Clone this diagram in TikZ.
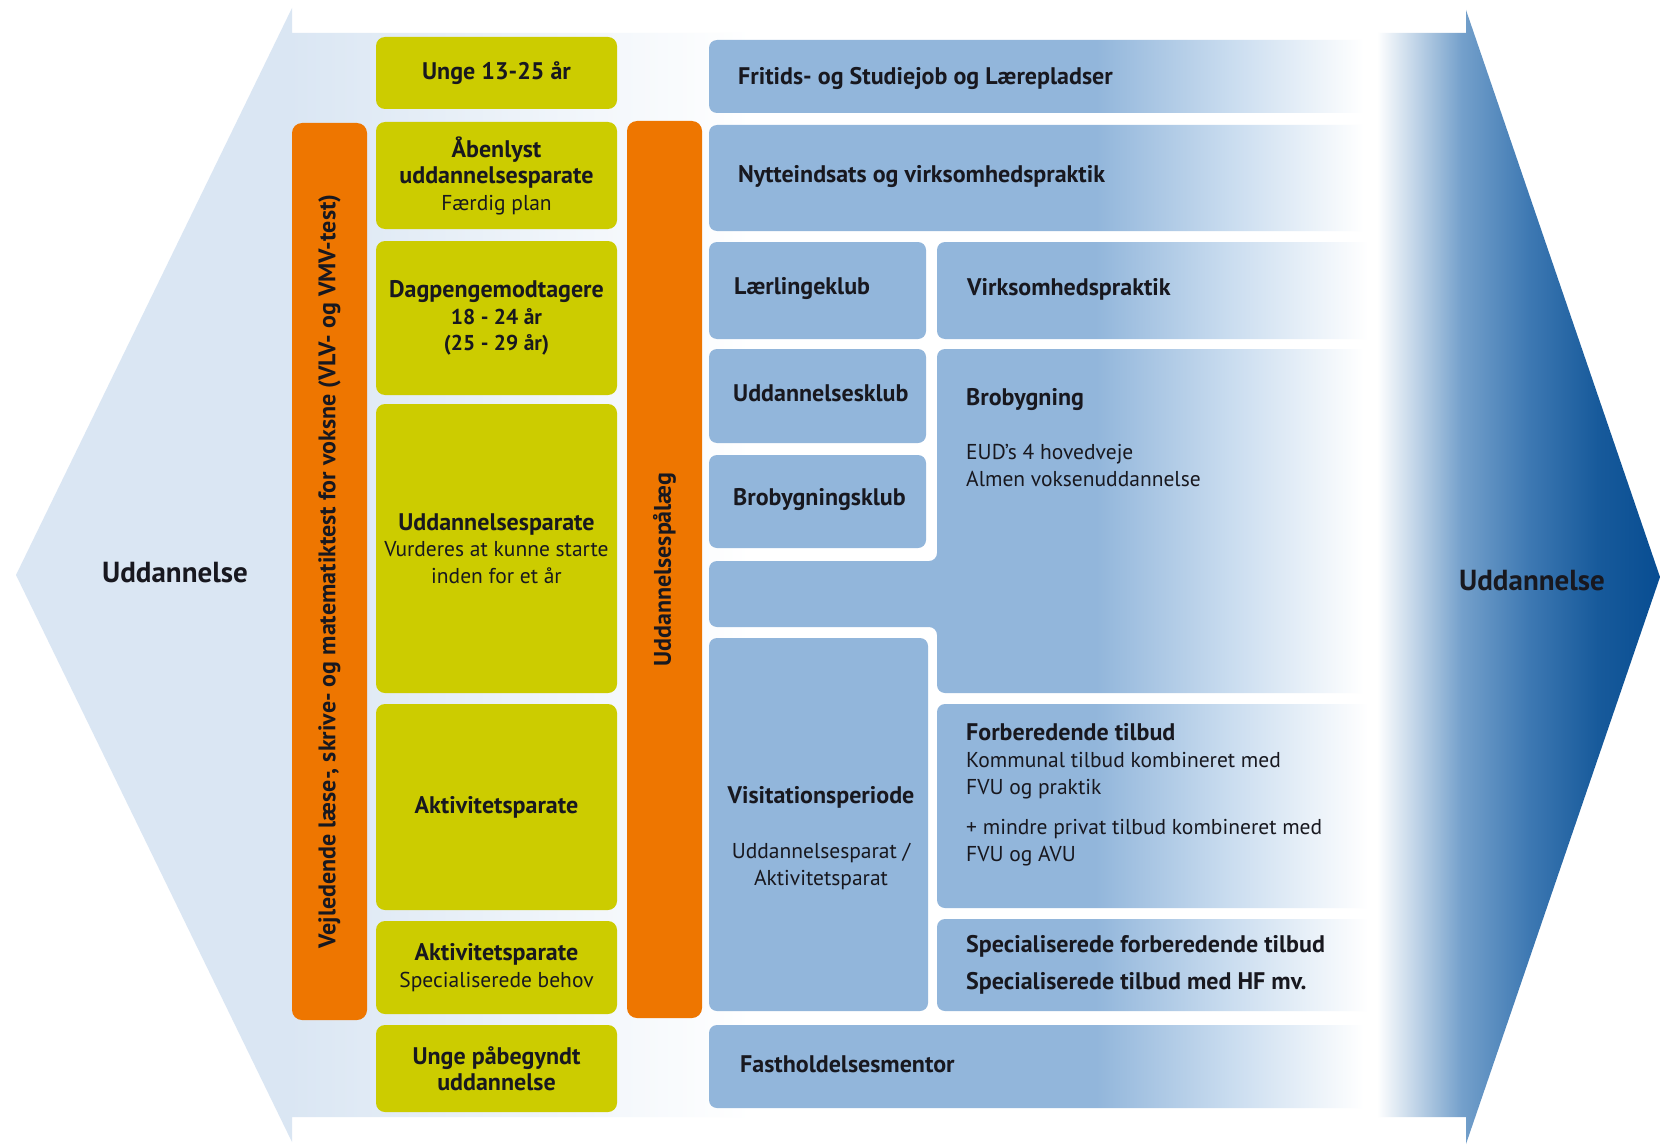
\documentclass[tikz,border=0pt]{standalone}
\usepackage{fontspec}
\setmainfont{PT Sans}
\definecolor{cyel}{HTML}{CCCC00}
\definecolor{corg}{HTML}{EE7600}
\definecolor{cbx}{HTML}{92B6DB}
\definecolor{cbxl}{HTML}{C9DCEF}
\definecolor{clb}{HTML}{DAE6F3}
\definecolor{ctxt}{HTML}{18181F}
\definecolor{cra1}{HTML}{74A0CB}
\definecolor{cra2}{HTML}{3D78B2}
\definecolor{cra3}{HTML}{175A9B}
\definecolor{cra4}{HTML}{084D92}
\pgfdeclarehorizontalshading{bgsh}{100bp}{color(0bp)=(clb); color(35bp)=(clb); color(52bp)=(white); color(100bp)=(white)}
\pgfdeclarehorizontalshading{arrsh}{100bp}{color(0bp)=(white); color(25bp)=(white); color(40bp)=(cra1); color(52bp)=(cra2); color(64bp)=(cra3); color(75bp)=(cra4); color(100bp)=(cra4)}
\pgfdeclarehorizontalshading{fadeW}{100bp}{color(0bp)=(cbx); color(54bp)=(cbx); color(64bp)=(cbxl); color(74bp)=(white); color(100bp)=(white)}
\pgfdeclarehorizontalshading{fadeN}{100bp}{color(0bp)=(cbx); color(43bp)=(cbx); color(58bp)=(cbxl); color(74bp)=(white); color(100bp)=(white)}
\begin{document}
\begin{tikzpicture}[x=1pt,y=-1pt,
  ybox/.style={fill=cyel, rounded corners=9pt, minimum width=241pt, inner sep=0pt, align=center, text=ctxt,
    font=\bfseries\fontsize{24}{26.5}\selectfont},
  obar/.style={fill=corg, rounded corners=10pt, inner sep=0pt, text=ctxt, rotate=90,
    font=\bfseries\fontsize{24}{26}\selectfont},
  bsolid/.style={fill=cbx, rounded corners=8pt, inner sep=0pt},
  bwide/.style={shade, shading=fadeW, rounded corners=8pt, inner sep=0pt},
  bnarrow/.style={shade, shading=fadeN, rounded corners=8pt, inner sep=0pt},
  btxt/.style={inner sep=0pt, align=left, text=ctxt, font=\bfseries\fontsize{24}{27}\selectfont},
  bigtxt/.style={inner sep=0pt, text=ctxt, font=\bfseries\fontsize{29}{32}\selectfont}]
\newcommand\subf{\mdseries\fontsize{21.5}{26.5}\selectfont}
\newcommand\subb{\bfseries\fontsize{21.5}{26.5}\selectfont}
\useasboundingbox (0,0) rectangle (1660,1145);
\fill[white] (0,0) rectangle (1660,1145);
% background chevron and body
\path[shade, shading=bgsh] (292,8) -- (16,575) -- (292,1142) -- (292,1117) -- (1377,1117) -- (1377,33) -- (292,33) -- cycle;
% right arrow
\path[shade, shading=arrsh] (1377,33) -- (1466,33) -- (1466,10) -- (1660,577) -- (1466,1144) -- (1466,1117) -- (1377,1117) -- cycle;
% side labels
\node[bigtxt] (uL) at (175,573) {Uddannelse};
\node[bigtxt] (uR) at (1532,581) {Uddannelse};
% orange bars
\node[obar, minimum width=897pt, minimum height=75pt] (oL) at (329.5,571.5) {Vejledende læse-, skrive- og matematiktest for voksne (VLV- og VMV-test)};
\node[obar, minimum width=897pt, minimum height=75pt] (oR) at (664.5,569.5) {Uddannelsespålæg};
% yellow column
\node[ybox, minimum height=72pt] (yU) at (496.5,73) {Unge 13-25 år};
\node[ybox, minimum height=107pt] (yA) at (496.5,175.5) {Åbenlyst\\uddannelsesparate\\{\subf Færdig plan}};
\node[ybox, minimum height=154pt] (yD) at (496.5,318) {Dagpengemodtagere\\{\subb 18 - 24 år}\\{\subb (25 - 29 år)}};
\node[ybox, minimum height=289pt] (yUP) at (496.5,548.5) {Uddannelsesparate\\{\subf Vurderes at kunne starte}\\{\subf inden for et år}};
\node[ybox, minimum height=206pt] (yAk) at (496.5,807) {Aktivitetsparate};
\node[ybox, minimum height=93pt] (yAS) at (496.5,967.5) {Aktivitetsparate\\{\subf Specialiserede behov}};
\node[ybox, minimum height=87pt] (yUng) at (496.5,1068.5) {Unge påbegyndt\\uddannelse};
% blue boxes
\node[bwide, minimum width=668pt, minimum height=73pt] (bF) at (1043,76.5) {};
\node[bwide, minimum width=668pt, minimum height=106pt] (bN) at (1043,178) {};
\node[bsolid, minimum width=217pt, minimum height=97pt] (bL) at (817.5,290.5) {};
\node[bnarrow, minimum width=440pt, minimum height=97pt] (bV) at (1157,290.5) {};
\node[bsolid, minimum width=217pt, minimum height=94pt] (bU) at (817.5,396) {};
\node[bsolid, minimum width=217pt, minimum height=93pt] (bBk) at (817.5,501.5) {};
\path[shade, shading=fadeW, rounded corners=8pt] (937,349) -- (1377,349) -- (1377,693) -- (937,693) -- (937,627) -- (709,627) -- (709,561) -- (937,561) -- cycle;
\node[bsolid, minimum width=219pt, minimum height=373pt] (bVis) at (818.5,824.5) {};
\node[bnarrow, minimum width=440pt, minimum height=204pt] (bFo) at (1157,806) {};
\node[bnarrow, minimum width=440pt, minimum height=92pt] (bS) at (1157,965) {};
\node[bwide, minimum width=668pt, minimum height=83pt] (bFa) at (1043,1066.5) {};
% blue texts
\node[btxt, anchor=west] (tF) at (738,78) {Fritids- og Studiejob og Lærepladser};
\node[btxt, anchor=west] (tN) at (738,177) {Nytteindsats og virksomhedspraktik};
\node[btxt, anchor=west] (tL) at (734,289) {Lærlingeklub};
\node[btxt, anchor=west] (tV) at (967,289) {Virksomhedspraktik};
\node[btxt, anchor=west] (tU) at (733,393) {Uddannelsesklub};
\node[btxt, anchor=west] (tBk) at (733,500) {Brobygningsklub};
\node[btxt, anchor=west] (tB) at (966,438) {Brobygning\\[27pt]{\subf EUD’s 4 hovedveje}\\{\subf Almen voksenuddannelse}};
\node[btxt, align=center] (tVis) at (821,838) {Visitationsperiode\\[28pt]{\subf Uddannelsesparat /}\\{\subf Aktivitetsparat}};
\node[btxt, anchor=west] (tFo) at (966,794.5) {Forberedende tilbud\\{\subf Kommunal tilbud kombineret med}\\{\subf FVU og praktik}\\[13pt]{\subf + mindre privat tilbud kombineret med}\\{\subf FVU og AVU}};
\node[btxt, anchor=west] (tS) at (966,964.5) {Specialiserede forberedende tilbud\\[10pt]Specialiserede tilbud med HF mv.};
\node[btxt, anchor=west] (tFa) at (740,1064) {Fastholdelsesmentor};
\end{tikzpicture}
\end{document}
